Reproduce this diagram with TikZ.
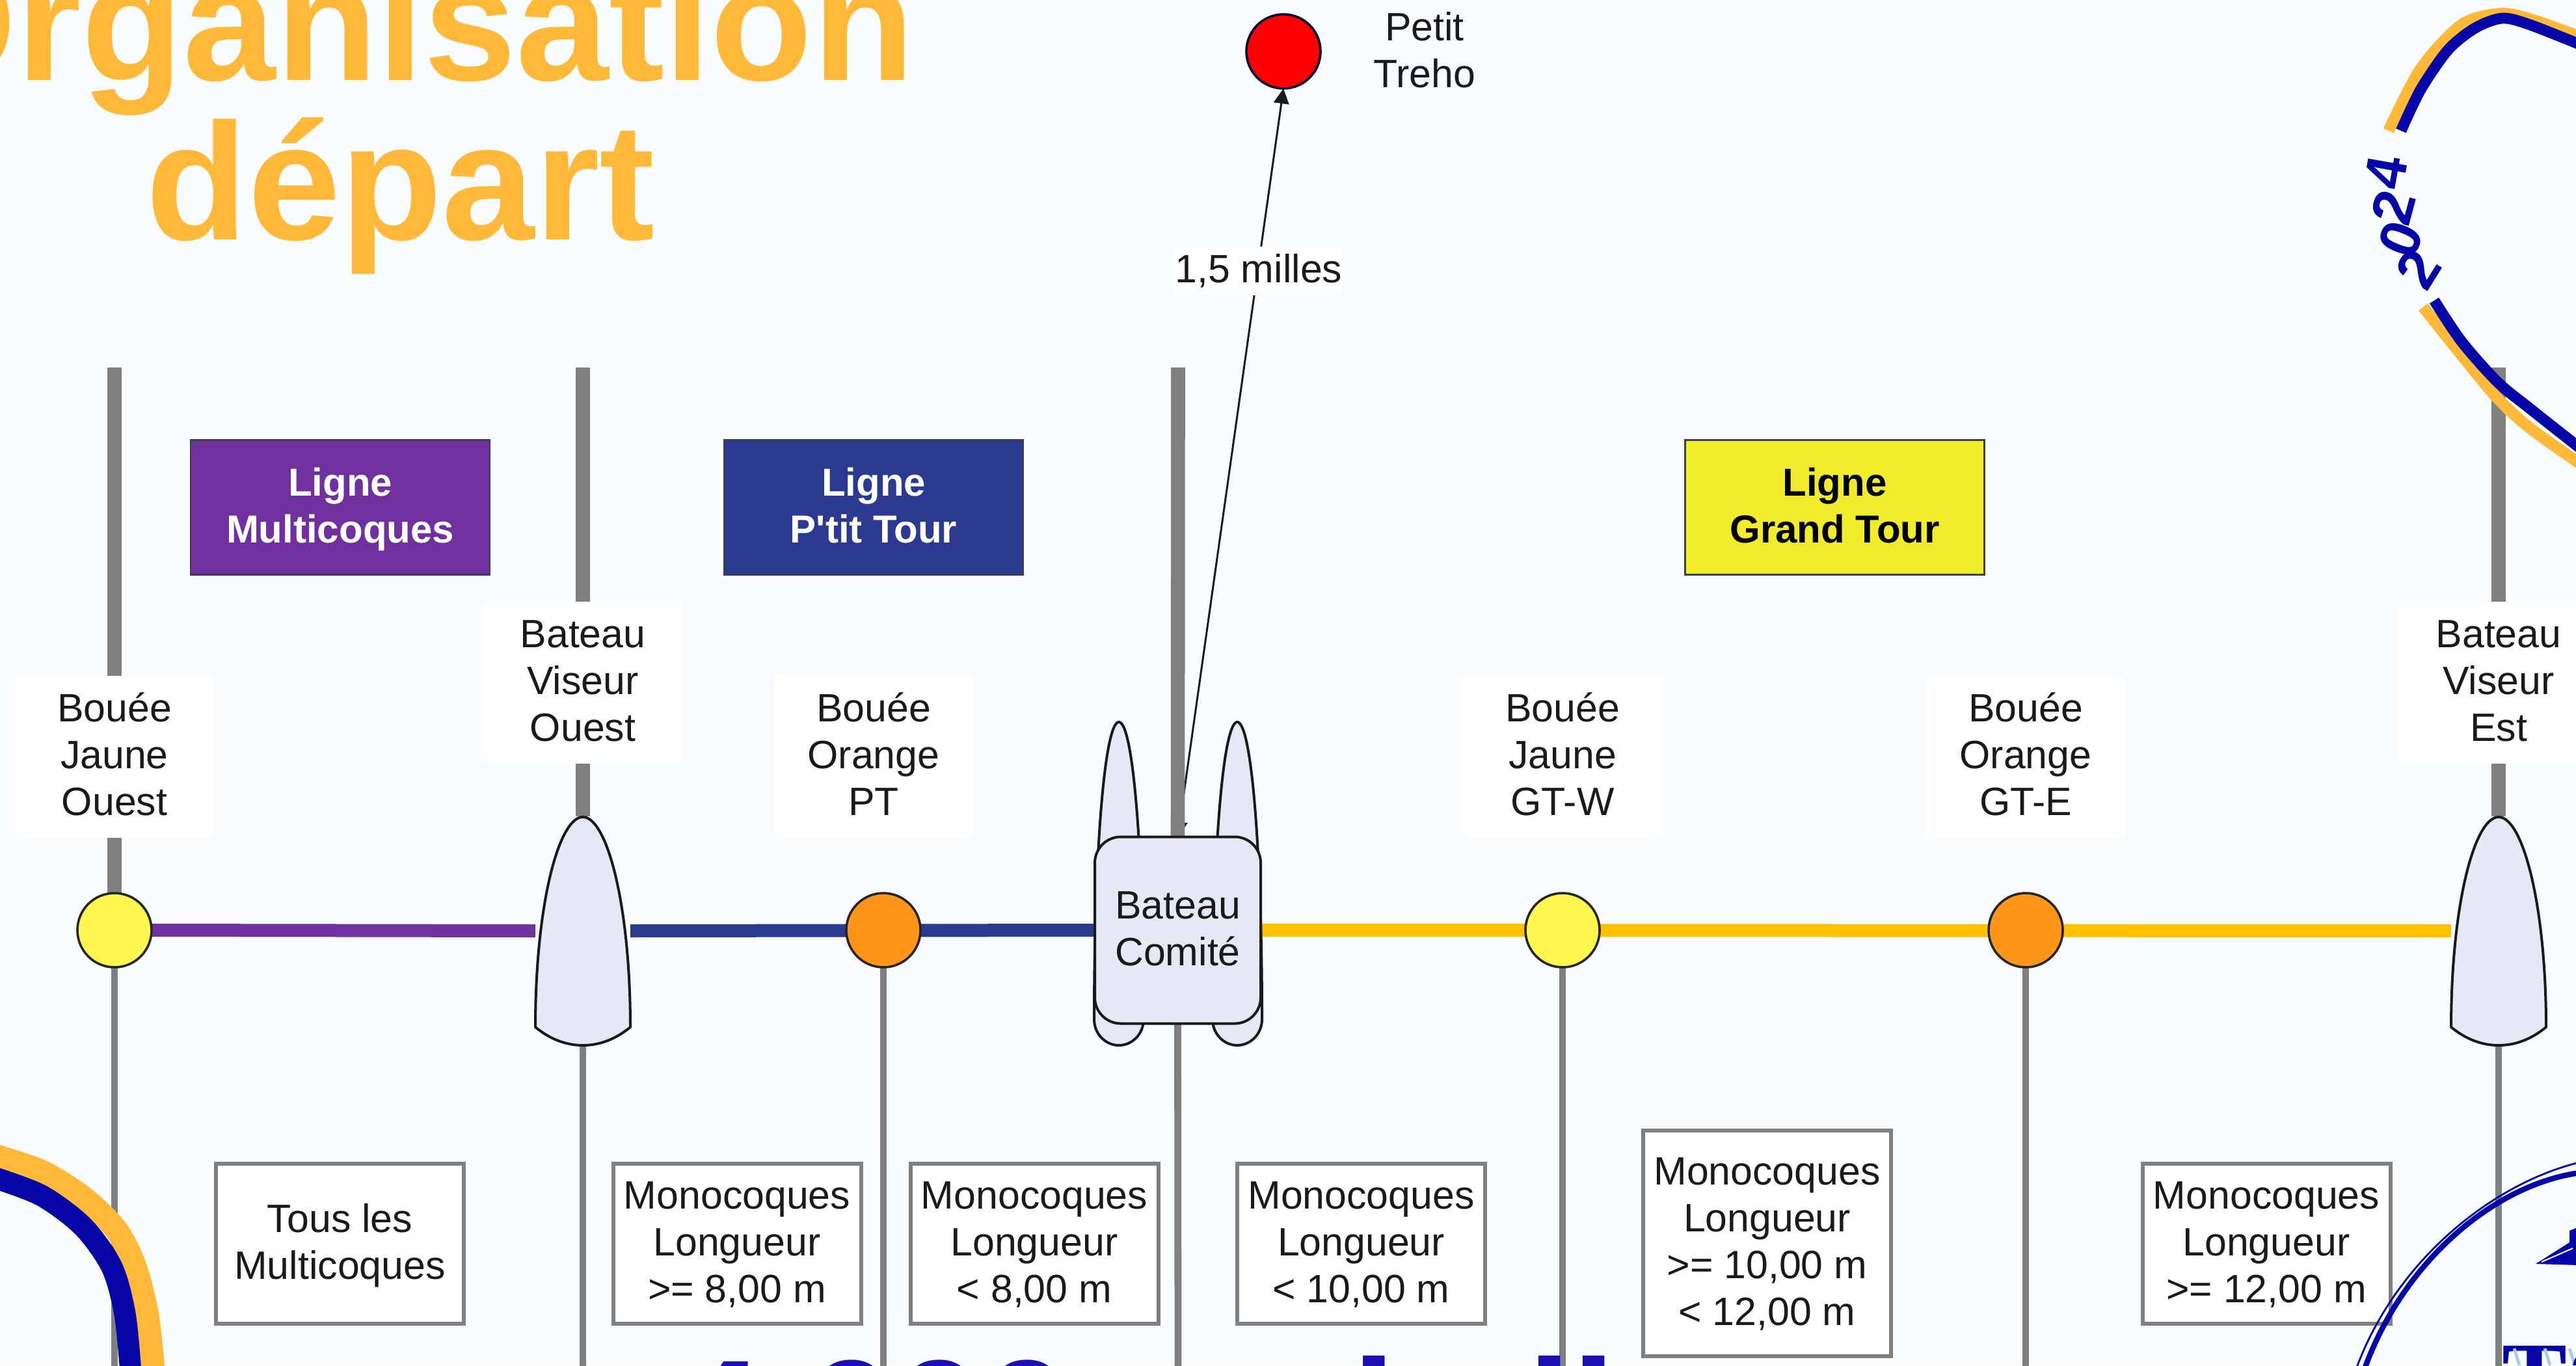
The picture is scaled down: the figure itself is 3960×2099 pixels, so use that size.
\documentclass[tikz,border=0pt]{standalone}
\usepackage{fontspec}
\setmainfont{Liberation Sans}
\usetikzlibrary{arrows.meta}
\newcommand\Tu{\vrule height 13.6pt depth 0pt width 0pt\relax}
\newcommand\Bu{\vrule height 0pt depth 4.4pt width 0pt\relax}
\definecolor{bgc}{HTML}{F8FCFF}
\definecolor{txt}{HTML}{1A1A1A}
\definecolor{polegray}{HTML}{808080}
\definecolor{purp}{HTML}{7030A0}
\definecolor{navy}{HTML}{2B3990}
\definecolor{gold}{HTML}{FFC000}
\definecolor{yel}{HTML}{FFF94F}
\definecolor{orng}{HTML}{FF9619}
\definecolor{boatc}{HTML}{E6E8F5}
\definecolor{titleo}{HTML}{FFB837}
\definecolor{logob}{HTML}{0505A8}
\definecolor{bottomb}{HTML}{1B0EB4}
\definecolor{yelbox}{HTML}{F0EB2B}
\definecolor{hatch}{HTML}{A9CBEA}
\pgfdeclarelayer{back}
\pgfdeclarelayer{lines}
\pgfdeclarelayer{logo}
\pgfsetlayers{back,lines,main,logo}
\tikzset{
  body/.style={font=\fontsize{15.2}{18}\selectfont,text=txt,align=center},
  tag/.style={body,fill=white,inner sep=0pt,outer sep=0pt,minimum width=76.5pt,minimum height=62.25pt},
  crit/.style={body,fill=white,draw=polegray,line width=1.5pt,inner sep=0pt,outer sep=0pt,minimum width=95.25pt,minimum height=61.5pt},
  head/.style={font=\fontsize{15}{18}\selectfont\bfseries,align=center,draw=black!75,line width=0.6pt,inner sep=0pt,outer sep=0pt,minimum width=115pt,minimum height=51.75pt},
  buoy/.style={circle,draw=black!85,line width=0.9pt,inner sep=0pt,outer sep=0pt,minimum size=28.5pt},
  hullanchor/.style={inner sep=0pt,outer sep=0pt,minimum width=36.5pt,minimum height=88pt},
  shell/.style={draw=txt,fill=boatc,line width=1pt,line join=round},
  upole/.style={draw=polegray,line width=5.4pt},
  lpole/.style={draw=polegray,line width=2.7pt},
  lane/.style={line width=5pt},
  digit/.style={font=\fontsize{22}{22}\selectfont\bfseries,text=logob,inner sep=0pt},
  boat/.pic={\draw[shell] (-73,148) .. controls (-73,-40) and (-37,-175) .. (0,-175) .. controls (37,-175) and (73,-40) .. (73,148) .. controls (50,167) and (25,176) .. (0,176) .. controls (-25,176) and (-50,167) .. (-73,148) -- cycle;},
  floathull/.pic={\draw[shell] (-38,457) .. controls (-38,200) and (-22,0) .. (0,0) .. controls (22,0) and (38,200) .. (38,457) .. controls (38,480) and (20,497) .. (0,497) .. controls (-20,497) and (-38,480) .. (-38,457) -- cycle;}
}
\begin{document}
\begin{tikzpicture}[x=0.25pt,y=-0.25pt]
\useasboundingbox (0,0) rectangle (3960,2099);
\begin{pgfonlayer}{back}
\fill[bgc] (0,0) rectangle (3960,2099);
\end{pgfonlayer}

% title and bottom line
\node[font=\fontsize{64}{61.25}\selectfont\bfseries,text=titleo,align=center,inner sep=0pt] (title) at (616,180) {Organisation\\départ};
\node[font=\fontsize{60.75}{61}\selectfont\bfseries,text=bottomb,anchor=base west,inner sep=0pt] (dist) at (1038,2260) {4 000 m de ligne};

% free ends
\coordinate (ta) at (176,565);
\coordinate (tb) at (896,565);
\coordinate (tc) at (1811,565);
\coordinate (td) at (3841,565);
\coordinate (ba) at (176,2110);
\coordinate (bb) at (896,2110);
\coordinate (bc) at (1358,2110);
\coordinate (bd) at (1811,2110);
\coordinate (be) at (2402,2110);
\coordinate (bf) at (3114,2110);
\coordinate (bg) at (3841,2110);

% boats
\node[hullanchor] (vo) at (896,1431) {};
\node[hullanchor] (ve) at (3841,1431) {};
\pic at (896,1431) {boat};
\pic at (3841,1431) {boat};
\pic at (1720,1110) {floathull};
\pic at (1902,1110) {floathull};
\node[shell,body,draw=txt,rounded corners=10pt,inner sep=0pt,outer sep=0pt,minimum width=63.75pt,minimum height=71.75pt] (comite) at (1810.5,1430) {\Tu Bateau\\Comité\Bu};

% buoys
\node[buoy,fill=yel] (bja) at (176,1430) {};
\node[buoy,fill=orng] (bop) at (1358,1430) {};
\node[buoy,fill=yel] (bjg) at (2402,1430) {};
\node[buoy,fill=orng] (boe) at (3114,1430) {};
\node[buoy,fill=red,draw=black!80!blue] (pt) at (1973,79) {};
\node[body,inner sep=0pt] (ptl) at (2190,80) {\Tu Petit\\Treho\Bu};

% headers
\node[head,fill=purp,text=white] (h1) at (523,780) {\Tu Ligne\\Multicoques\Bu};
\node[head,fill=navy,text=white] (h2) at (1343,780) {\Tu Ligne\\P\textquotesingle tit Tour\Bu};
\node[head,fill=yelbox,text=black] (h3) at (2820.5,780) {\Tu Ligne\\Grand Tour\Bu};

% white labels
\node[tag] (l1) at (176,1163) {\Tu Bouée\\Jaune\\Ouest\Bu};
\node[tag] (l2) at (896,1049) {\Tu Bateau\\Viseur\\Ouest\Bu};
\node[tag] (l3) at (1343,1163) {\Tu Bouée\\Orange\\PT\Bu};
\node[tag] (l4) at (2402,1163) {\Tu Bouée\\Jaune\\GT-W\Bu};
\node[tag] (l5) at (3114,1163) {\Tu Bouée\\Orange\\GT-E\Bu};
\node[tag] (l6) at (3841,1049) {\Tu Bateau\\Viseur\\Est\Bu};
\node[body,fill=white,inner sep=0pt,outer sep=0pt,minimum width=65pt,minimum height=18.75pt] (dl) at (1935,416) {\Tu 1,5 milles\Bu};

% criteria boxes
\node[crit] (c1) at (522.5,1912) {\Tu Tous les\\Multicoques\Bu};
\node[crit] (c2) at (1133,1912) {\Tu Monocoques\\Longueur\\>= 8,00 m\Bu};
\node[crit] (c3) at (1590,1912) {\Tu Monocoques\\Longueur\\< 8,00 m\Bu};
\node[crit] (c4) at (2092.5,1912) {\Tu Monocoques\\Longueur\\< 10,00 m\Bu};
\node[crit,minimum height=86.75pt] (c5) at (2716.5,1911.5) {\Tu Monocoques\\Longueur\\>= 10,00 m\\< 12,00 m\Bu};
\node[crit] (c6) at (3484,1912) {\Tu Monocoques\\Longueur\\>= 12,00 m\Bu};

% connectors
\begin{pgfonlayer}{lines}
\draw[txt,line width=0.75pt,{Triangle[length=5.8pt,width=5.8pt]}-{Triangle[length=5.8pt,width=5.8pt]}] (comite.north) -- (pt.south);
\draw[upole] (ta) -- (bja.north);
\draw[upole] (tb) -- (vo.north);
\draw[upole] (tc) -- (comite.north);
\draw[upole] (td) -- (ve.north);
\draw[lpole] (bja.south) -- (ba);
\draw[lpole] (vo.south) -- (bb);
\draw[lpole] (bop.south) -- (bc);
\draw[lpole] (comite.south) -- (bd);
\draw[lpole] (bjg.south) -- (be);
\draw[lpole] (boe.south) -- (bf);
\draw[lpole] (ve.south) -- (bg);
\draw[lane,purp] (bja.east) -- (vo.west);
\draw[lane,navy] (vo.east) -- (comite.west);
\draw[lane,gold] (comite.east) -- (ve.west);
\end{pgfonlayer}

% logos
\begin{pgfonlayer}{logo}
% top right
\draw[titleo,line width=4.4pt] plot[smooth] coordinates {(3672,201) (3721,106) (3784,38) (3843,21) (3889,29) (3965,56)};
\draw[logob,line width=4.2pt] plot[smooth] coordinates {(3691,201) (3721,138) (3763,77) (3805,43) (3847,28) (3889,38) (3965,68)};
\draw[titleo,line width=4.4pt] plot[smooth] coordinates {(3725,472) (3784,546) (3839,612) (3889,658) (3965,712)};
\draw[logob,line width=4.2pt] plot[smooth] coordinates {(3742,462) (3784,525) (3839,587) (3889,628) (3965,688)};
\node[digit,rotate=80] (d4) at (3668,265) {4};
\node[digit,rotate=75] (d3) at (3679,319) {2};
\node[digit,rotate=68] (d2) at (3691,367) {0};
\node[digit,rotate=58] (d1) at (3717,413) {2};
% bottom left
\draw[titleo,line width=9pt] plot[smooth] coordinates {(-10,1776) (64,1801) (128,1841) (179,1891) (207,1946) (226,2020) (236,2110)};
\draw[logob,line width=8.3pt] plot[smooth] coordinates {(-10,1810) (64,1838) (128,1886) (172,1948) (192,2020) (201,2110)};
% bottom right
\draw[logob,line width=0.7pt] (3965,1787) .. controls (3830,1820) and (3680,1940) .. (3620,2110);
\draw[logob,line width=2.1pt] (3965,1803) .. controls (3830,1822) and (3690,1945) .. (3633,2110);
\fill[logob] (3898,1943) -- (3950,1910) -- (3950,1892) -- (3965,1886) -- (3965,1945) -- cycle;
\draw[white,line width=0.5pt] (3907,1940) -- (3955,1919);
\node[text=logob,anchor=base west,inner sep=0pt,font=\fontsize{37.5}{37.5}\selectfont\bfseries\fontspec{Liberation Serif}] (tl) at (3846,2167) {T};
\foreach \px in {3865,3912,3950} \draw[hatch,line width=1.2pt] (\px,2073) -- (\px+8,2099);
\fill[logob] (3955,2099) .. controls (3957,2090) and (3960,2085) .. (3965,2082) -- (3965,2099) -- cycle;
\end{pgfonlayer}
\end{tikzpicture}
\end{document}
